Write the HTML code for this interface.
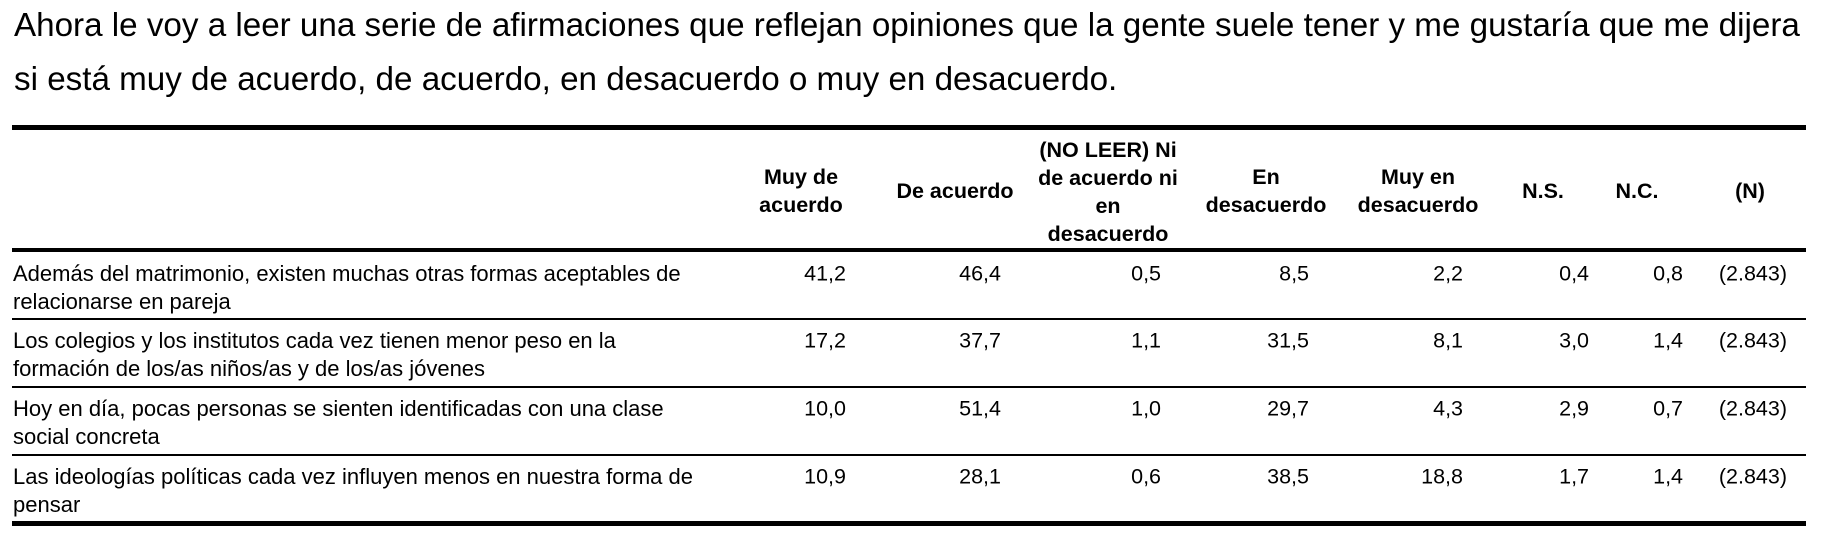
<!DOCTYPE html>
<html><head><meta charset="utf-8"><style>
body{margin:0;width:1827px;height:551px;background:#fff;position:relative;overflow:hidden;font-family:"Liberation Sans",Arial,sans-serif;color:#000}
.t{position:absolute;left:14px;font-size:33.2px;white-space:nowrap;line-height:1}
.l{position:absolute;left:12px;width:1794px;background:#000}
.h{position:absolute;font-weight:bold;font-size:21.5px;line-height:28px;text-align:center;transform:translate(-50%,-50%);white-space:nowrap}
.v{position:absolute;font-size:21.5px;line-height:1;transform:translate(-100%,-50%);white-space:nowrap}
.r{position:absolute;left:13px;font-size:22px;line-height:28px;white-space:nowrap}
</style></head><body>
<div class="t" style="top:9px">Ahora le voy a leer una serie de afirmaciones que reflejan opiniones que la gente suele tener y me gustaría que me dijera</div>
<div class="t" style="top:63px">si está muy de acuerdo, de acuerdo, en desacuerdo o muy en desacuerdo.</div>
<div class="l" style="top:125px;height:5px"></div>
<div class="l" style="top:248px;height:4px"></div>
<div class="l" style="top:318px;height:2px"></div>
<div class="l" style="top:386px;height:2px"></div>
<div class="l" style="top:454px;height:2px"></div>
<div class="l" style="top:521px;height:5px"></div>

<div class="h" style="left:801px;top:191px">Muy de<br>acuerdo</div>
<div class="h" style="left:955px;top:191px">De acuerdo</div>
<div class="h" style="left:1108px;top:192px">(NO LEER) Ni<br>de acuerdo ni<br>en<br>desacuerdo</div>
<div class="h" style="left:1266px;top:191px">En<br>desacuerdo</div>
<div class="h" style="left:1418px;top:191px">Muy en<br>desacuerdo</div>
<div class="h" style="left:1543px;top:191px">N.S.</div>
<div class="h" style="left:1637px;top:191px">N.C.</div>
<div class="h" style="left:1750px;top:191px">(N)</div>

<div class="r" style="top:260px">Además del matrimonio, existen muchas otras formas aceptables de<br>relacionarse en pareja</div>
<div class="r" style="top:327px">Los colegios y los institutos cada vez tienen menor peso en la<br>formación de los/as niños/as y de los/as jóvenes</div>
<div class="r" style="top:395px">Hoy en día, pocas personas se sienten identificadas con una clase<br>social concreta</div>
<div class="r" style="top:463px">Las ideologías políticas cada vez influyen menos en nuestra forma de<br>pensar</div>

<div style="position:absolute;top:274px;left:0;width:0">
<div class="v" style="left:846px">41,2</div><div class="v" style="left:1001px">46,4</div><div class="v" style="left:1161px">0,5</div><div class="v" style="left:1309px">8,5</div><div class="v" style="left:1463px">2,2</div><div class="v" style="left:1589px">0,4</div><div class="v" style="left:1683px">0,8</div><div class="v" style="left:1787px">(2.843)</div></div>
<div style="position:absolute;top:341px;left:0;width:0">
<div class="v" style="left:846px">17,2</div><div class="v" style="left:1001px">37,7</div><div class="v" style="left:1161px">1,1</div><div class="v" style="left:1309px">31,5</div><div class="v" style="left:1463px">8,1</div><div class="v" style="left:1589px">3,0</div><div class="v" style="left:1683px">1,4</div><div class="v" style="left:1787px">(2.843)</div></div>
<div style="position:absolute;top:409px;left:0;width:0">
<div class="v" style="left:846px">10,0</div><div class="v" style="left:1001px">51,4</div><div class="v" style="left:1161px">1,0</div><div class="v" style="left:1309px">29,7</div><div class="v" style="left:1463px">4,3</div><div class="v" style="left:1589px">2,9</div><div class="v" style="left:1683px">0,7</div><div class="v" style="left:1787px">(2.843)</div></div>
<div style="position:absolute;top:477px;left:0;width:0">
<div class="v" style="left:846px">10,9</div><div class="v" style="left:1001px">28,1</div><div class="v" style="left:1161px">0,6</div><div class="v" style="left:1309px">38,5</div><div class="v" style="left:1463px">18,8</div><div class="v" style="left:1589px">1,7</div><div class="v" style="left:1683px">1,4</div><div class="v" style="left:1787px">(2.843)</div></div>
</body></html>
